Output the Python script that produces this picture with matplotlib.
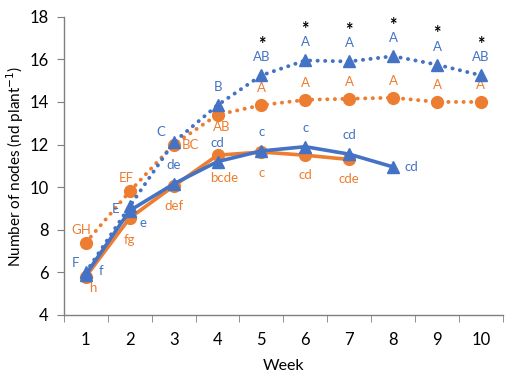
import matplotlib
matplotlib.use('Agg')
import matplotlib.pyplot as plt

plt.rcParams['font.family'] = ['Lato', 'DejaVu Sans']

blue = '#4472C4'
orange = '#ED7D31'

weeks = [1, 2, 3, 4, 5, 6, 7, 8, 9, 10]

# dotted series
blue_dot = [6.0, 9.1, 12.1, 13.85, 15.25, 15.95, 15.9, 16.15, 15.75, 15.25]
orange_dot = [7.4, 9.8, 12.0, 13.4, 13.85, 14.1, 14.15, 14.2, 14.0, 14.0]
# solid series
blue_sol = [5.9, 8.9, 10.15, 11.2, 11.7, 11.9, 11.55, 10.95]
orange_sol = [5.8, 8.55, 10.05, 11.5, 11.65, 11.5, 11.3]

blue_dot_lbl = ['F', 'E', 'C', 'B', 'AB', 'A', 'A', 'A', 'A', 'AB']
orange_dot_lbl = ['GH', 'EF', 'BC', 'AB', 'A', 'A', 'A', 'A', 'A', 'A']
blue_sol_lbl = ['f', 'e', 'de', 'cd', 'c', 'c', 'cd', 'cd']
orange_sol_lbl = ['h', 'fg', 'def', 'bcde', 'c', 'cd', 'cde']
star_weeks = [5, 6, 7, 8, 9, 10]

# label offsets in pixels (dx, dy)
blue_dot_off = [(-10, 9), (-14, -3), (-13, 10)] + [(0, 18)] * 7
orange_dot_off = [(-5, 13), (-3, 13), (17, 0), (4, -12)] + [(0, 17)] * 6
blue_sol_off = [(15, 4), (13, -12)] + [(0, 19)] * 5 + [(18, 0)]
orange_sol_off = [(7, -11), (0, -22), (0, -20), (7, -23), (0, -21), (0, -20), (0, -20)]

fig = plt.figure(figsize=(5.11, 3.78), dpi=100)
ax = fig.add_axes([0.125, 0.1667, 0.859, 0.789])

dot = (0, (0.05, 1.9))
ax.plot(weeks, orange_dot, color=orange, lw=2.8, ls=dot, dash_capstyle='round',
        marker='o', ms=8.5, zorder=3)
ax.plot(weeks, blue_dot, color=blue, lw=2.8, ls=dot, dash_capstyle='round',
        marker='^', ms=9, zorder=4)
ax.plot(weeks[:len(orange_sol)], orange_sol, color=orange, lw=2.6,
        marker='o', ms=8.5, zorder=3)
ax.plot(weeks[:len(blue_sol)], blue_sol, color=blue, lw=2.6,
        marker='^', ms=9, zorder=4)


def put(xs, ys, labels, offs, color):
    for x, y, t, (dx, dy) in zip(xs, ys, labels, offs):
        ax.annotate(t, (x, y), xytext=(dx, dy), textcoords='offset pixels',
                    ha='center', va='center', color=color, fontsize=9.5)


put(weeks, blue_dot, blue_dot_lbl, blue_dot_off, blue)
put(weeks, orange_dot, orange_dot_lbl, orange_dot_off, orange)
put(weeks, blue_sol, blue_sol_lbl, blue_sol_off, blue)
put(weeks, orange_sol, orange_sol_lbl, orange_sol_off, orange)

for w in star_weeks:
    ax.annotate('*', (w, blue_dot[w - 1]), xytext=(0, 31), textcoords='offset pixels',
                ha='center', va='center', color='black', fontsize=13, fontweight='bold')

ax.set_xlim(0.5, 10.5)
ax.set_ylim(4, 18)
ax.set_yticks(range(4, 19, 2))
ax.set_xticks(weeks)
ax.set_xticks([w + 0.5 for w in [0] + weeks], minor=True)
ax.tick_params(axis='x', which='major', length=0, pad=12, labelsize=12)
ax.tick_params(axis='x', which='minor', length=5, color='#7f7f7f', direction='out')
ax.tick_params(axis='y', length=5, color='#7f7f7f', labelsize=12, pad=6)
for s in ['top', 'right']:
    ax.spines[s].set_visible(False)
for s in ['left', 'bottom']:
    ax.spines[s].set_color('#7f7f7f')
    ax.spines[s].set_linewidth(1)

ax.set_xlabel('Week', fontsize=11.5, labelpad=8)
ax.set_ylabel(r'Number of nodes (nd plant$^{-1}$)', fontsize=11)
ax.yaxis.set_label_coords(-0.086, 0.5)

fig.savefig('out.png', dpi=100)
